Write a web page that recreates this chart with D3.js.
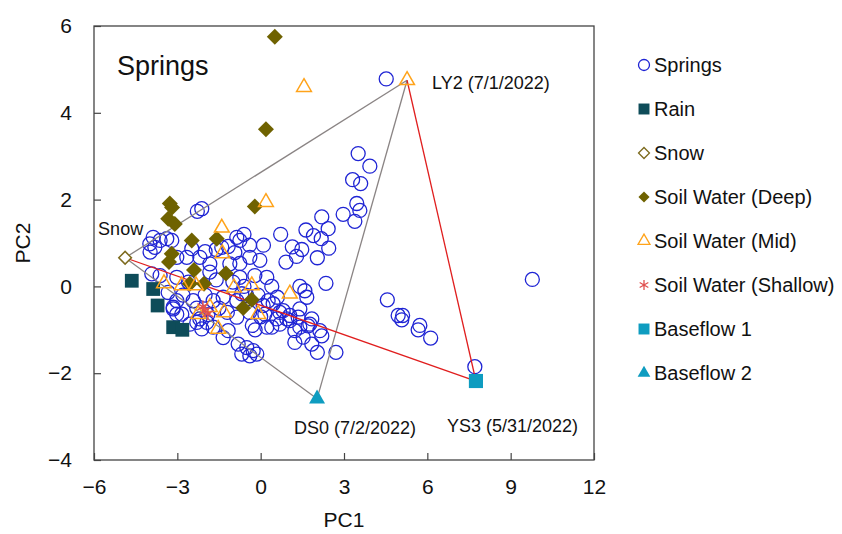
<!DOCTYPE html>
<html>
<head>
<meta charset="utf-8">
<script src="https://cdn.jsdelivr.net/npm/d3@7"></script>
<style>
  body { margin: 0; background: #fff; }
  text { font-family: "Liberation Sans", Arial, sans-serif; fill: #111; }
</style>
</head>
<body>
<svg id="drawing_region"></svg>
<script>
// PC1 / PC2 scores
const springs = [
    [4.52,4.78],
    [3.51,3.06],[3.93,2.77],[3.31,2.46],[3.6,2.37],[3.46,1.91],[3.57,1.75],[2.97,1.66],[3.39,1.5],
    [2.2,1.6],[2.43,1.33],[1.63,1.3],[1.9,1.17],[2.18,1.1],[2.45,0.88],[1.14,0.91],[1.48,0.85],
    [2.04,0.66],[0.91,0.56],[1.29,0.69],[0.72,1.2],
    [2.35,0.07],[1.41,0.0],[1.59,-0.1],[1.66,-0.25],
    [4.56,-0.31],[4.95,-0.67],[5.11,-0.67],[5.08,-0.77],[5.73,-0.9],[5.67,-1.0],[6.12,-1.19],
    [7.71,-1.85],[9.78,0.16],
    [0.81,-0.56],[1.05,-0.67],[1.84,-0.75],[1.71,-0.91],[1.23,-1.02],[2.2,-1.14],[1.23,-1.29],
    [1.84,-1.33],[2.04,-1.52],[2.71,-1.52],[0.69,-0.87],[1.41,-0.94],[0.94,-0.75],[1.35,-0.71],
    [0.4,-0.94],[1.53,-1.17],[0.15,-0.64],[0.58,-0.75],[1.05,-0.79],[1.41,-0.52],[1.77,-0.87],[2.13,-1.02],
    [-0.39,0.67],[-0.03,0.6],[-0.75,0.53],[-0.21,0.25],[0.22,0.21],[-0.5,-0.21],[0.27,-0.33],
    [0.45,-0.4],[0.69,-0.6],[0.09,-0.44],[0.22,-0.94],
    [-0.81,-1.33],[-0.5,-1.41],[-0.27,-1.48],[-0.68,-1.56],[-0.39,-1.6],[-0.14,-1.56],
    [-2.12,1.79],[-2.28,1.73],[-3.87,1.13],[-3.62,1.06],[-3.38,1.1],[-3.2,1.06],[-3.99,0.98],
    [-3.81,0.9],[-2.48,0.87],[-1.4,0.9],[-0.86,1.13],[-0.75,1.06],[-1.17,0.92],[-0.93,0.78],[-0.6,1.2],
    [-3.98,0.79],[-2.66,0.67],[-3.02,0.67],[-2.19,0.67],[-1.83,0.52],[-3.92,0.29],[-3.62,0.25],
    [-3.02,0.21],[-1.83,0.33],[-0.75,0.21],[-1.11,0.52],[-3.33,-0.14],[-3.02,-0.33],[-3.15,-0.52],
    [-2.84,-0.64],[-2.55,-0.87],[-2.3,-0.83],[-2.12,-0.98],[-1.71,-0.94],[-1.35,-1.18],[-1.17,-1.02],
    [-1.71,-0.33],[-1.35,-0.25],[-2.43,-0.33],[-0.86,-0.33],[-0.86,-0.71],[-0.68,-0.17],
    [-3.15,-0.48],[-3.02,-0.64],[-2.19,-0.75],[-1.94,-0.83],
    [-2.0,-0.2],[-1.5,-0.5],[-1.2,-0.6],[-0.4,-0.6],[-0.1,-0.2],[0.4,0.0],[-0.6,0.0],[-1.0,0.1],
    [-2.3,-0.5],[-1.9,-0.65],[-0.3,-0.9],[0.0,-0.7],[0.6,-0.25],[-2.6,0.1],[-2.8,-0.2],[-1.6,0.15],
    [-0.2,-1.0],[-2.0,0.8],[-1.6,0.85],[-0.4,0.95],[0.1,0.95]
];
const rain = [[-4.64,0.13],[-3.87,-0.06],[-3.71,-0.44],[-3.15,-0.94],[-2.82,-1.0]];
const snow = [[-4.88,0.66]];
const soilDeep = [
    [0.51,5.75],[0.19,3.62],[-3.27,1.91],[-3.19,1.82],[-3.33,1.56],[-3.09,1.44],[-2.48,1.06],
    [-1.58,1.1],[-0.21,1.84],[-3.2,0.75],[-3.3,0.56],[-2.4,0.38],[-1.25,0.3],[-2.04,0.06],
    [-2.55,0.06],[-0.32,-0.31],[-0.63,-0.5]
];
const soilMid = [
    [5.27,4.75],[1.56,4.59],[0.19,1.94],[-1.4,1.35],[-1.38,0.76],[-3.48,0.07],[-2.84,0.02],
    [-2.33,0.02],[-0.96,-0.03],[-0.32,0.02],[1.05,-0.17],[-2.25,-0.64],[-1.83,-0.48],
    [-1.32,-0.6],[-1.53,-0.98],[-0.09,-0.64]
];
const soilShallow = [[-2.0,-0.56],[-1.9,-0.63],[-2.08,-0.47]];
const baseflow1 = [[7.75,-2.18]];
const baseflow2 = [[2.03,-2.59]];

const xTicks = [-6, -3, 0, 3, 6, 9, 12];
const yTicks = [-4, -2, 0, 2, 4, 6];

// end-member labels
const endMembers = [
    {name: "LY2 (7/1/2022)", at: soilMid[0], dx: 25, dy: 9},
    {name: "DS0 (7/2/2022)", at: baseflow2[0], dx: -23, dy: 35},
    {name: "YS3 (5/31/2022)", at: baseflow1[0], dx: -29, dy: 51},
    {name: "Snow", at: snow[0], dx: -27, dy: -23}
];
const grayEdges = [[snow[0], soilMid[0]], [soilMid[0], baseflow2[0]], [baseflow2[0], snow[0]]];
const redEdges = [[soilMid[0], baseflow1[0]], [baseflow1[0], snow[0]]];

const series = [
    {name: "Springs", data: springs, shape: "circle", size: 154, fill: "none", stroke: "#1f24d4", lsize: 95},
    {name: "Rain", data: rain, shape: "square", size: 190, fill: "#0e4c59", stroke: "none", lsize: 120},
    {name: "Snow", data: snow, shape: "diamond", size: 80, fill: "#fff", stroke: "#7d6b1e", lsize: 60},
    {name: "Soil Water (Deep)", data: soilDeep, shape: "diamond", size: 128, fill: "#6f6200", stroke: "none", lsize: 62},
    {name: "Soil Water (Mid)", data: soilMid, shape: "triangle", size: 95, fill: "none", stroke: "#ffa31a", lsize: 62},
    {name: "Soil Water (Shallow)", data: soilShallow, shape: "asterisk", size: 110, fill: "none", stroke: "#e0504f", lsize: 70},
    {name: "Baseflow 1", data: baseflow1, shape: "square", size: 200, fill: "#0e9cc0", stroke: "none", lsize: 120},
    {name: "Baseflow 2", data: baseflow2, shape: "triangle", size: 110, fill: "#0e9cc0", stroke: "none", lsize: 70}
];
const drawOrder = [0, 1, 3, 4, 5, 2, 6, 7];

class ScatterPlot {
    constructor(config) {
        this.config = config;
        this.init();
    }

    init() {
        let self = this;
        const c = self.config;
        self.svg = d3.select(c.parent).attr('width', c.width).attr('height', c.height);
        self.inner_width = c.width - c.margin.left - c.margin.right;
        self.inner_height = c.height - c.margin.top - c.margin.bottom;
        self.chart = self.svg.append('g')
            .attr('transform', `translate(${c.margin.left}, ${c.margin.top})`);
        self.xscale = d3.scaleLinear().domain([-6, 12]).range([0, self.inner_width]);
        self.yscale = d3.scaleLinear().domain([-4, 6]).range([self.inner_height, 0]);
    }

    symbol(shape, size) {
        const types = {circle: d3.symbolCircle, square: d3.symbolSquare, diamond: d3.symbolSquare,
                       triangle: d3.symbolTriangle, asterisk: d3.symbolAsterisk};
        return d3.symbol().type(types[shape]).size(size)();
    }

    render() {
        let self = this;
        const xs = self.xscale, ys = self.yscale;

        // axes, ticks pointing inward
        const xaxis = d3.axisBottom(xs).tickValues(xTicks).tickSizeInner(-7).tickSizeOuter(0).tickPadding(19);
        const yaxis = d3.axisLeft(ys).tickValues(yTicks).tickSizeInner(-7).tickSizeOuter(0).tickPadding(22);
        const gx = self.chart.append('g').attr('transform', `translate(0, ${self.inner_height})`).call(xaxis);
        const gy = self.chart.append('g').call(yaxis);
        [gx, gy].forEach(g => {
            g.select('.domain').remove();
            g.selectAll('.tick line').attr('stroke', '#444').attr('stroke-width', 1.2);
            g.selectAll('.tick text').style('font-size', '21px').attr('fill', '#111');
        });

        self.chart.append('rect')
            .attr('width', self.inner_width).attr('height', self.inner_height)
            .attr('fill', 'none').attr('stroke', '#444').attr('stroke-width', 1.3);

        self.chart.append('text')
            .attr('text-anchor', 'middle')
            .attr('x', self.inner_width / 2).attr('y', self.inner_height + 67)
            .style('font-size', '21px').text('PC1');
        self.chart.append('text')
            .attr('text-anchor', 'middle')
            .attr('transform', `translate(-64, ${ys(1)}) rotate(-90)`)
            .style('font-size', '21px').text('PC2');

        self.chart.append('text')
            .attr('x', 23).attr('y', 49)
            .style('font-size', '27px').text('Springs');

        const groups = drawOrder.map(i => series[i]);
        const drawSeries = s => {
            self.chart.append('g').selectAll('path')
                .data(s.data).join('path')
                .attr('d', self.symbol(s.shape, s.size))
                .attr('transform', d => `translate(${xs(d[0])}, ${ys(d[1])})` + (s.shape === 'diamond' ? ' rotate(45)' : ''))
                .attr('fill', s.fill)
                .attr('stroke', s.stroke)
                .attr('stroke-width', s.shape === 'circle' ? 1.3 : 1.5);
        };
        drawSeries(groups[0]);

        // mixing triangles
        const edge = (e, color) => self.chart.append('line')
            .attr('x1', xs(e[0][0])).attr('y1', ys(e[0][1]))
            .attr('x2', xs(e[1][0])).attr('y2', ys(e[1][1]))
            .attr('stroke', color).attr('stroke-width', 1.3);
        grayEdges.forEach(e => edge(e, '#8a8484'));
        redEdges.forEach(e => edge(e, '#e01e1e'));

        groups.slice(1).forEach(drawSeries);

        endMembers.forEach(m => {
            self.chart.append('text')
                .attr('x', xs(m.at[0]) + m.dx).attr('y', ys(m.at[1]) + m.dy)
                .style('font-size', '18px').text(m.name);
        });

        // legend
        const legend = self.svg.append('g').attr('transform', 'translate(644, 65)');
        series.forEach((s, i) => {
            const row = legend.append('g').attr('transform', `translate(0, ${i * 44})`);
            row.append('path')
                .attr('d', self.symbol(s.shape, s.lsize))
                .attr('transform', s.shape === 'diamond' ? 'rotate(45)' : null)
                .attr('fill', s.fill).attr('stroke', s.stroke).attr('stroke-width', 1.3);
            row.append('text')
                .attr('x', 10).attr('y', 0).attr('dy', '0.36em')
                .style('font-size', '20px').text(s.name);
        });
    }
}

const scatter_plot = new ScatterPlot({
    parent: '#drawing_region',
    width: 842,
    height: 534,
    margin: {top: 26, right: 248, bottom: 74, left: 94}
});
scatter_plot.render();
</script>
</body>
</html>
